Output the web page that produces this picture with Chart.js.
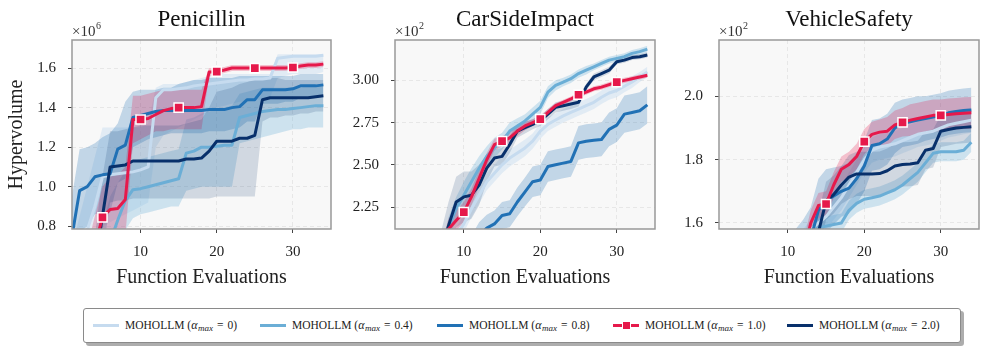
<!DOCTYPE html>
<html>
<head>
<meta charset="utf-8">
<script src="https://cdn.jsdelivr.net/npm/chart.js@4/dist/chart.umd.min.js"></script>
<style>
html,body{margin:0;padding:0;background:#fff;}
#wrap{position:relative;width:987px;height:352px;overflow:hidden;background:#fff;}
.panel{position:absolute;top:0;height:290px;}
#legend{position:absolute;left:83px;top:308px;width:878px;height:35px;box-sizing:border-box;border:1px solid #8a8a8a;border-radius:3px;background:#fff;box-shadow:3px 3px 0 rgba(0,0,0,0.32);display:flex;align-items:center;padding-left:9px;gap:13px;font-family:"Liberation Serif",serif;font-size:11.5px;color:#222;white-space:nowrap;}
.item{display:flex;align-items:center;gap:6px;}
.sw{position:relative;display:inline-block;width:26px;height:10px;}
.sw .ln{position:absolute;left:0;right:0;top:3.5px;height:3px;}
.sw .mk{position:absolute;left:8.5px;top:0.5px;width:7px;height:7px;border:1px solid #fff;}
.item .tx{display:inline-block;}
.item i{font-style:italic;font-size:12px;}
.item sub{font-size:9px;font-style:italic;vertical-align:-2px;line-height:0;margin-left:0.5px;}
.item .eq{margin:0 4px;}
</style>
</head>
<body>
<div id="wrap">
  <div class="panel" style="left:0;width:340px"><canvas id="p1" width="340" height="290"></canvas></div>
  <div class="panel" style="left:340px;width:324px"><canvas id="p2" width="324" height="290"></canvas></div>
  <div class="panel" style="left:664px;width:323px"><canvas id="p3" width="323" height="290"></canvas></div>
  <div id="legend"></div>
</div>
<script>
// ---------------- data ----------------
const evals = [1,2,3,4,5,6,7,8,9,10,11,12,13,14,15,16,17,18,19,20,21,22,23,24,25,26,27,28,29,30,31,32,33,34];
const xTicks = [10,20,30];
const markerEvals = [5,10,15,20,25,30];
const alphaLabels = ['0','0.4','0.8','1.0','2.0'];

// Penicillin (x10^6)
const penYTicks = [0.8,1.0,1.2,1.4,1.6];
const pen_a0    = [0.55,0.65,0.78,0.90,1.05,1.06,1.065,1.07,1.075,1.085,1.10,1.45,1.49,1.49,1.495,1.50,1.51,1.515,1.52,1.525,1.53,1.535,1.54,1.54,1.545,1.545,1.55,1.65,1.655,1.66,1.66,1.66,1.66,1.665];
const pen_a0_lo = [0.40,0.45,0.55,0.65,0.80,0.82,0.84,0.86,0.88,0.90,0.92,1.20,1.26,1.28,1.30,1.32,1.34,1.36,1.38,1.40,1.41,1.42,1.43,1.43,1.44,1.44,1.45,1.55,1.56,1.57,1.57,1.57,1.57,1.58];
const pen_a0_hi = [0.70,0.85,1.00,1.15,1.30,1.30,1.30,1.30,1.30,1.30,1.32,1.50,1.52,1.52,1.52,1.53,1.54,1.55,1.56,1.57,1.57,1.57,1.57,1.57,1.57,1.57,1.57,1.67,1.67,1.67,1.67,1.67,1.67,1.67];
const pen_a4    = [0.30,0.40,0.50,0.55,0.60,0.72,0.83,0.93,0.985,0.99,1.00,1.01,1.02,1.03,1.04,1.17,1.18,1.20,1.20,1.205,1.21,1.21,1.35,1.36,1.37,1.38,1.385,1.39,1.39,1.395,1.40,1.405,1.41,1.41];
const pen_a4_lo = [0.20,0.25,0.30,0.35,0.40,0.50,0.65,0.78,0.84,0.86,0.87,0.88,0.89,0.90,0.90,0.98,0.99,1.00,1.00,1.00,1.00,1.00,1.22,1.23,1.24,1.25,1.26,1.27,1.28,1.29,1.29,1.30,1.30,1.30];
const pen_a4_hi = [0.45,0.55,0.70,0.75,0.80,0.95,1.02,1.08,1.13,1.14,1.15,1.16,1.17,1.18,1.19,1.34,1.35,1.37,1.38,1.39,1.40,1.41,1.47,1.48,1.49,1.50,1.50,1.50,1.50,1.50,1.50,1.51,1.51,1.51];
const pen_a8    = [0.75,0.98,1.00,1.05,1.06,1.065,1.19,1.21,1.35,1.36,1.37,1.38,1.385,1.385,1.385,1.385,1.385,1.385,1.39,1.39,1.39,1.40,1.405,1.44,1.44,1.49,1.49,1.49,1.49,1.495,1.51,1.51,1.51,1.515];
const pen_a8_lo = [0.55,0.77,0.80,0.86,0.87,0.87,1.02,1.04,1.20,1.22,1.24,1.25,1.26,1.27,1.27,1.27,1.27,1.27,1.28,1.28,1.28,1.29,1.30,1.33,1.33,1.42,1.42,1.42,1.43,1.43,1.45,1.45,1.45,1.46];
const pen_a8_hi = [0.95,1.19,1.20,1.22,1.25,1.27,1.32,1.43,1.48,1.49,1.49,1.49,1.50,1.50,1.52,1.53,1.54,1.54,1.55,1.55,1.55,1.55,1.56,1.56,1.56,1.56,1.56,1.56,1.56,1.56,1.57,1.57,1.57,1.57];
const pen_a10    = [0.40,0.50,0.60,0.70,0.845,0.885,0.89,0.935,1.34,1.34,1.345,1.365,1.385,1.395,1.40,1.40,1.40,1.405,1.58,1.582,1.59,1.60,1.60,1.60,1.60,1.60,1.60,1.60,1.60,1.603,1.61,1.615,1.615,1.62];
const pen_a10_lo = [0.30,0.40,0.50,0.60,0.70,0.72,0.72,0.75,1.22,1.24,1.26,1.28,1.28,1.29,1.29,1.29,1.29,1.29,1.56,1.565,1.575,1.585,1.585,1.585,1.585,1.585,1.585,1.585,1.585,1.59,1.595,1.60,1.60,1.605];
const pen_a10_hi = [0.50,0.60,0.70,0.85,1.00,1.05,1.06,1.10,1.46,1.46,1.47,1.48,1.49,1.49,1.49,1.49,1.49,1.49,1.60,1.60,1.605,1.615,1.615,1.615,1.615,1.615,1.615,1.615,1.615,1.618,1.625,1.63,1.63,1.635];
const pen_a20    = [0.30,0.40,0.50,0.60,0.85,1.10,1.105,1.11,1.13,1.13,1.13,1.13,1.13,1.13,1.13,1.14,1.14,1.145,1.18,1.23,1.23,1.23,1.245,1.245,1.26,1.44,1.45,1.45,1.45,1.45,1.45,1.45,1.455,1.46];
const pen_a20_lo = [0.20,0.30,0.40,0.45,0.65,0.92,0.93,0.93,0.94,0.94,0.94,0.94,0.94,0.94,0.94,0.94,0.94,0.94,0.94,0.95,0.95,0.95,0.95,0.95,0.95,1.33,1.35,1.35,1.36,1.36,1.37,1.37,1.38,1.38];
const pen_a20_hi = [0.40,0.50,0.60,0.75,1.05,1.28,1.28,1.29,1.30,1.31,1.31,1.31,1.31,1.31,1.31,1.32,1.33,1.34,1.40,1.48,1.49,1.50,1.52,1.53,1.55,1.55,1.55,1.55,1.54,1.54,1.54,1.54,1.54,1.54];

// CarSideImpact (x10^2)
const carYTicks = [2.25,2.50,2.75,3.00];
const car_a0     = [1.40,1.50,1.60,1.70,1.80,1.88,1.95,2.02,2.08,2.15,2.24,2.32,2.40,2.45,2.50,2.54,2.57,2.60,2.64,2.70,2.74,2.765,2.79,2.81,2.83,2.85,2.87,2.90,2.925,2.94,2.965,2.99,3.02,3.05];
const car_a0_sd  = [0.05,0.05,0.05,0.05,0.05,0.05,0.05,0.05,0.05,0.05,0.05,0.05,0.05,0.05,0.05,0.05,0.05,0.05,0.045,0.045,0.04,0.04,0.04,0.04,0.04,0.04,0.04,0.04,0.04,0.04,0.035,0.035,0.03,0.03];
const car_a4     = [1.40,1.50,1.60,1.70,1.80,1.85,1.90,2.13,2.24,2.32,2.40,2.48,2.55,2.60,2.64,2.70,2.73,2.76,2.80,2.84,2.93,2.97,2.99,3.01,3.04,3.06,3.08,3.10,3.12,3.13,3.14,3.16,3.17,3.185];
const car_a4_sd  = [0.06,0.06,0.06,0.06,0.06,0.06,0.06,0.06,0.07,0.08,0.08,0.07,0.06,0.06,0.05,0.05,0.045,0.04,0.04,0.04,0.035,0.03,0.025,0.025,0.025,0.025,0.02,0.02,0.02,0.02,0.02,0.02,0.02,0.02];
const car_a8     = [1.30,1.40,1.50,1.60,1.65,1.70,1.75,1.80,1.85,1.92,2.00,2.08,2.125,2.15,2.20,2.21,2.28,2.34,2.40,2.41,2.49,2.50,2.51,2.52,2.63,2.64,2.645,2.65,2.71,2.735,2.80,2.81,2.82,2.855];
const car_a8_sd  = [0.08,0.08,0.08,0.08,0.08,0.08,0.08,0.08,0.08,0.08,0.08,0.08,0.08,0.08,0.08,0.08,0.085,0.085,0.09,0.09,0.09,0.09,0.09,0.09,0.10,0.10,0.10,0.10,0.10,0.10,0.11,0.11,0.11,0.11];
const car_a10    = [1.40,1.50,1.60,1.70,1.80,1.88,1.98,2.12,2.17,2.22,2.31,2.42,2.53,2.62,2.64,2.66,2.70,2.73,2.75,2.77,2.81,2.85,2.87,2.89,2.915,2.93,2.95,2.96,2.975,2.99,3.00,3.01,3.02,3.03];
const car_a10_sd = [0.05,0.05,0.05,0.05,0.05,0.05,0.05,0.06,0.06,0.06,0.05,0.05,0.04,0.035,0.03,0.03,0.03,0.025,0.02,0.02,0.02,0.015,0.015,0.015,0.015,0.015,0.015,0.015,0.015,0.015,0.015,0.015,0.015,0.015];
const car_a20    = [1.40,1.50,1.60,1.70,1.80,1.88,1.98,2.14,2.28,2.31,2.32,2.38,2.48,2.54,2.55,2.62,2.70,2.72,2.74,2.76,2.80,2.84,2.85,2.86,2.87,2.96,3.02,3.04,3.06,3.11,3.12,3.135,3.14,3.15];
const car_a20_sd = [0.10,0.10,0.10,0.10,0.10,0.10,0.12,0.14,0.15,0.15,0.14,0.12,0.08,0.05,0.05,0.05,0.04,0.035,0.03,0.03,0.03,0.03,0.03,0.03,0.025,0.02,0.02,0.02,0.02,0.015,0.015,0.015,0.015,0.015];

// VehicleSafety (x10^2)
const vehYTicks = [1.6,1.8,2.0];
const veh_a0     = [1.20,1.25,1.30,1.35,1.38,1.40,1.42,1.44,1.46,1.48,1.50,1.55,1.58,1.60,1.62,1.65,1.68,1.72,1.76,1.80,1.83,1.84,1.845,1.85,1.86,1.87,1.88,1.885,1.89,1.90,1.91,1.915,1.92,1.925];
const veh_a0_sd  = [0.04,0.04,0.04,0.04,0.04,0.04,0.04,0.04,0.04,0.04,0.03,0.03,0.03,0.035,0.04,0.04,0.04,0.04,0.04,0.04,0.04,0.04,0.04,0.04,0.04,0.04,0.04,0.04,0.04,0.04,0.04,0.04,0.04,0.04];
const veh_a4     = [1.20,1.25,1.30,1.35,1.38,1.40,1.42,1.44,1.46,1.48,1.49,1.495,1.50,1.585,1.59,1.595,1.60,1.64,1.662,1.675,1.68,1.685,1.695,1.705,1.72,1.74,1.76,1.79,1.82,1.825,1.825,1.825,1.83,1.855];
const veh_a4_sd  = [0.03,0.03,0.03,0.03,0.03,0.03,0.03,0.03,0.03,0.03,0.03,0.03,0.03,0.03,0.03,0.03,0.03,0.03,0.03,0.03,0.03,0.03,0.03,0.03,0.03,0.03,0.03,0.03,0.03,0.03,0.03,0.03,0.03,0.03];
const veh_a8     = [1.20,1.25,1.30,1.35,1.38,1.40,1.42,1.44,1.46,1.48,1.50,1.52,1.55,1.64,1.67,1.685,1.70,1.71,1.74,1.78,1.845,1.85,1.865,1.90,1.915,1.92,1.925,1.93,1.935,1.94,1.948,1.952,1.955,1.957];
const veh_a8_sd  = [0.08,0.08,0.08,0.08,0.08,0.08,0.08,0.08,0.08,0.08,0.08,0.09,0.10,0.10,0.10,0.09,0.08,0.08,0.08,0.08,0.08,0.08,0.08,0.08,0.075,0.075,0.075,0.07,0.07,0.07,0.07,0.07,0.07,0.07];
const veh_a10    = [1.20,1.25,1.30,1.35,1.38,1.40,1.42,1.44,1.46,1.48,1.49,1.50,1.60,1.655,1.66,1.72,1.77,1.785,1.81,1.857,1.88,1.887,1.89,1.91,1.918,1.925,1.93,1.935,1.94,1.94,1.943,1.945,1.947,1.948];
const veh_a10_sd = [0.04,0.04,0.04,0.04,0.04,0.04,0.04,0.04,0.04,0.04,0.04,0.04,0.04,0.04,0.04,0.04,0.04,0.04,0.04,0.04,0.04,0.04,0.045,0.045,0.045,0.05,0.05,0.05,0.05,0.05,0.05,0.05,0.05,0.05];
const veh_a20    = [1.20,1.25,1.30,1.35,1.38,1.40,1.42,1.44,1.46,1.48,1.49,1.50,1.52,1.57,1.67,1.69,1.72,1.745,1.755,1.755,1.755,1.756,1.765,1.78,1.785,1.786,1.79,1.83,1.835,1.89,1.895,1.90,1.902,1.904];
const veh_a20_sd = [0.06,0.06,0.06,0.06,0.06,0.06,0.06,0.06,0.06,0.06,0.06,0.06,0.06,0.06,0.06,0.06,0.06,0.07,0.07,0.07,0.07,0.07,0.07,0.07,0.07,0.07,0.07,0.06,0.06,0.05,0.05,0.05,0.05,0.05];

// ---------------- styles ----------------
const colors = ['#c6dbef','#6baed6','#2171b5','#e6194b','#08306b'];
const bandAlpha = [0.45,0.3,0.25,0.25,0.16];
const lineWidths = [3,3,3,3,3];
const lineOrder = [5,4,3,1,2];
const legendTextWidths = [122,132,131,129,131];
const FONT = '"Liberation Serif", "Times New Roman", serif';

Chart.defaults.font.family = FONT;
Chart.defaults.color = '#222';

function rgba(hex,a){const n=parseInt(hex.slice(1),16);return `rgba(${n>>16},${(n>>8)&255},${n&255},${a})`;}
function pts(arr){return evals.map((x,i)=>({x:x,y:arr[i]}));}

function buildDatasets(series){
  const ds=[];
  series.forEach((s,i)=>{
    const lo = s.lo || s.m.map((v,j)=>v - s.sd[j]);
    const hi = s.hi || s.m.map((v,j)=>v + s.sd[j]);
    ds.push({data:pts(hi),borderWidth:0,borderColor:'transparent',pointRadius:0,fill:'+1',backgroundColor:rgba(colors[i],bandAlpha[i]),order:30-i});
    ds.push({data:pts(lo),borderWidth:0,borderColor:'transparent',pointRadius:0,fill:false,order:30-i});
  });
  series.forEach((s,i)=>{
    const isRed = i===3;
    ds.push({
      data:pts(s.m),borderColor:colors[i],borderWidth:lineWidths[i],fill:false,
      borderJoinStyle:'round',borderCapStyle:'butt',
      pointStyle:'rect',
      pointRadius: isRed ? (c=> (c.raw && markerEvals.includes(c.raw.x)) ? 6.5 : 0) : 0,
      pointBackgroundColor:colors[i],pointBorderColor:'#fff',pointBorderWidth:1.5,
      order:lineOrder[i]
    });
  });
  return ds;
}

const decorPlugin = {
  id:'decor',
  beforeDraw(chart){
    const {ctx,chartArea:a}=chart;
    ctx.save();ctx.fillStyle='#f8f8f8';ctx.fillRect(a.left,a.top,a.right-a.left,a.bottom-a.top);ctx.restore();
  },
  afterDraw(chart){
    const {ctx,chartArea:a}=chart;
    const o=chart.options.plugins.decor;
    ctx.save();
    ctx.strokeStyle='#999';ctx.lineWidth=1.5;
    ctx.strokeRect(a.left,a.top,a.right-a.left,a.bottom-a.top);
    ctx.fillStyle='#111';
    ctx.font='23px '+FONT;ctx.textAlign='center';ctx.textBaseline='alphabetic';
    ctx.fillText(o.title,(a.left+a.right)/2,26);
    ctx.textAlign='left';
    ctx.font='15px '+FONT;
    ctx.fillStyle='#333';
    ctx.fillText('×10',a.left,36);
    const w=ctx.measureText('×10').width;
    ctx.font='10px '+FONT;
    ctx.fillText(o.exp,a.left+w+0.5,29);
    ctx.restore();
  }
};

const panels = [
  {id:'p1',title:'Penicillin',exp:'6',yMin:0.786,yMax:1.742,yTicks:penYTicks,dec:1,yTitle:'Hypervolume',axisW:72,padR:9,
   series:[{m:pen_a0,lo:pen_a0_lo,hi:pen_a0_hi},{m:pen_a4,lo:pen_a4_lo,hi:pen_a4_hi},{m:pen_a8,lo:pen_a8_lo,hi:pen_a8_hi},{m:pen_a10,lo:pen_a10_lo,hi:pen_a10_hi},{m:pen_a20,lo:pen_a20_lo,hi:pen_a20_hi}]},
  {id:'p2',title:'CarSideImpact',exp:'2',yMin:2.12,yMax:3.239,yTicks:carYTicks,dec:2,yTitle:'',axisW:55,padR:9,
   series:[{m:car_a0,sd:car_a0_sd},{m:car_a4,sd:car_a4_sd},{m:car_a8,sd:car_a8_sd},{m:car_a10,sd:car_a10_sd},{m:car_a20,sd:car_a20_sd}]},
  {id:'p3',title:'VehicleSafety',exp:'2',yMin:1.581,yMax:2.178,yTicks:vehYTicks,dec:1,yTitle:'',axisW:55,padR:8,
   series:[{m:veh_a0,sd:veh_a0_sd},{m:veh_a4,sd:veh_a4_sd},{m:veh_a8,sd:veh_a8_sd},{m:veh_a10,sd:veh_a10_sd},{m:veh_a20,sd:veh_a20_sd}]}
];

panels.forEach(p=>{
  new Chart(document.getElementById(p.id),{
    type:'line',
    data:{datasets:buildDatasets(p.series)},
    plugins:[decorPlugin],
    options:{
      responsive:false,animation:false,devicePixelRatio:1,events:[],
      layout:{padding:{top:40,right:p.padR,left:0,bottom:0}},
      plugins:{legend:{display:false},tooltip:{enabled:false},decor:{title:p.title,exp:p.exp}},
      elements:{line:{tension:0}},
      scales:{
        x:{type:'linear',min:1,max:35,
          afterBuildTicks:s=>{s.ticks=xTicks.map(v=>({value:v}));},
          afterFit:s=>{s.height=61;},
          ticks:{font:{size:15},color:'#222',padding:10,maxRotation:0,callback:v=>String(v)},
          grid:{color:'#e2e2e2',lineWidth:0.8,tickColor:'#444',tickLength:4,tickWidth:1},
          border:{display:false,dash:[4,3]},
          title:{display:true,text:'Function Evaluations',font:{size:20},color:'#222',padding:{top:0,bottom:0}}
        },
        y:{type:'linear',min:p.yMin,max:p.yMax,
          afterBuildTicks:s=>{s.ticks=p.yTicks.map(v=>({value:v}));},
          afterFit:s=>{s.width=p.axisW;},
          ticks:{font:{size:15},color:'#222',padding:12,callback:v=>Number(v).toFixed(p.dec)},
          grid:{color:'#e2e2e2',lineWidth:0.8,tickColor:'#444',tickLength:4,tickWidth:1},
          border:{display:false,dash:[4,3]},
          title:{display:!!p.yTitle,text:p.yTitle,font:{size:20},color:'#222',padding:{top:5,bottom:0}}
        }
      }
    }
  });
});

// ---------------- legend ----------------
const legend=document.getElementById('legend');
alphaLabels.forEach((a,i)=>{
  const it=document.createElement('div');it.className='item';
  const sw=document.createElement('span');sw.className='sw';
  const ln=document.createElement('span');ln.className='ln';ln.style.background=colors[i];sw.appendChild(ln);
  if(i===3){const mk=document.createElement('span');mk.className='mk';mk.style.background=colors[i];sw.appendChild(mk);}
  it.appendChild(sw);
  const tx=document.createElement('span');tx.className='tx';
  tx.style.minWidth=legendTextWidths[i]+'px';
  tx.innerHTML='MOHOLLM (<i>α</i><sub>max</sub><span class="eq">=</span>'+a+')';
  it.appendChild(tx);
  legend.appendChild(it);
});
</script>
</body>
</html>
